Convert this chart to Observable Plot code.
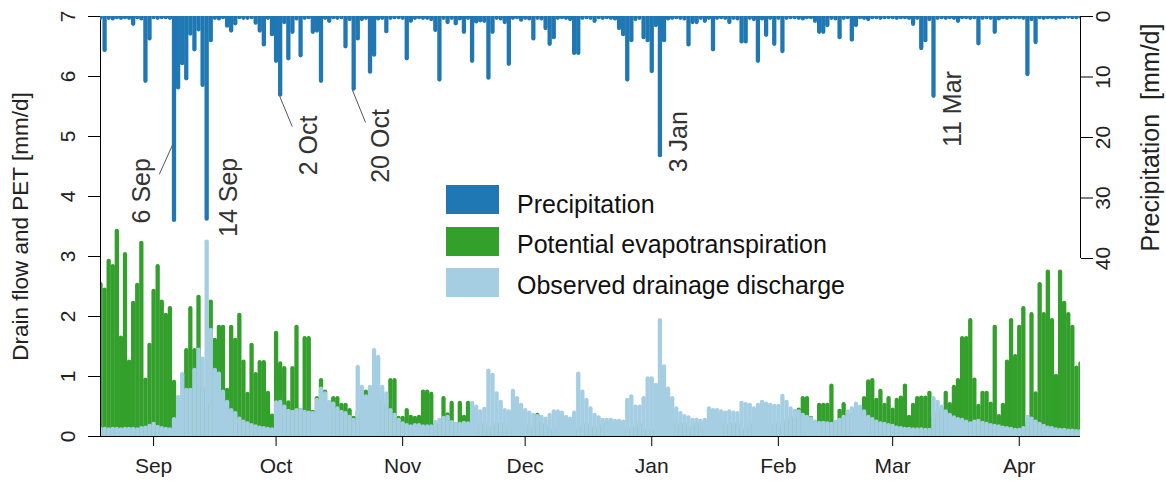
<!DOCTYPE html>
<html>
<head>
<meta charset="utf-8">
<script src="https://cdn.jsdelivr.net/npm/d3@7"></script>
<script src="https://cdn.jsdelivr.net/npm/@observablehq/plot@0.6"></script>
<style>
  body { margin: 0; background: #fff; font-family: "Liberation Sans", Arial, Helvetica, sans-serif; }
  #wrap { position: relative; width: 1166px; height: 481px; overflow: hidden; background: #fff; }
  #wrap svg { position: absolute; left: 0; top: 0; }
  .leg-box { position: absolute; left: 446px; width: 53px; height: 29px; }
  .leg-txt { position: absolute; left: 517px; font-size: 25px; line-height: 25px; color: #111; white-space: nowrap; }
</style>
</head>
<body>
<div id="wrap"></div>
<script>
// ---------- DATA (daily values, 19 Aug 2014 – 16 Apr 2015) ----------
// Precipitation [mm/d]
const precipAug = [0.3, 5.6, 0.3, 0.4, 0.2, 0.3, 0.2, 0.3, 1.3, 0.2, 0.4, 10.7, 3.7];
const precipSep = [0.2, 0.3, 0.2, 0.2, 0.3, 33.7, 11.8, 7.8, 10.3, 2.9, 5.5, 2.2, 11.4, 33.5, 4.0, 0.3, 0.4, 0.2, 1.6, 2.4, 1.2, 0.2, 0.3, 0.3, 0.2, 1.1, 2.4, 4.7, 0.3, 3.0];
const precipOct = [7.4, 13.0, 1.0, 7.0, 2.6, 0.4, 6.5, 0.3, 0.2, 2.6, 2.4, 10.7, 0.3, 0.8, 0.2, 0.3, 0.2, 5.0, 0.5, 12.0, 3.7, 0.5, 0.3, 9.2, 6.4, 0.4, 0.3, 2.5, 0.3, 0.2, 0.2];
const precipNov = [0.3, 7.0, 0.8, 0.3, 0.2, 0.3, 0.3, 0.5, 2.3, 10.5, 0.3, 1.0, 0.3, 1.2, 0.4, 2.6, 0.3, 7.4, 0.9, 0.7, 0.8, 10.2, 2.6, 0.3, 0.4, 1.0, 7.9, 0.3, 0.2, 0.6];
const precipDec = [0.3, 0.4, 3.7, 0.3, 0.4, 2.0, 4.6, 3.5, 0.3, 0.2, 0.3, 0.5, 6.1, 6.1, 0.3, 0.2, 0.3, 0.8, 0.2, 0.3, 0.2, 0.3, 0.4, 2.0, 3.0, 10.5, 4.0, 0.5, 0.3, 3.5, 4.0];
const precipJan = [9.1, 1.5, 23.0, 4.0, 0.4, 0.3, 0.2, 0.3, 0.4, 4.7, 1.0, 1.0, 0.3, 0.8, 0.3, 5.5, 0.3, 0.2, 0.3, 1.0, 0.3, 0.4, 4.2, 4.2, 0.3, 0.5, 7.4, 0.4, 3.1, 0.3, 4.6];
const precipFeb = [0.3, 5.8, 0.3, 0.2, 0.2, 0.3, 0.4, 0.2, 0.2, 0.8, 2.6, 2.6, 1.5, 0.3, 0.4, 3.5, 0.3, 0.2, 3.9, 1.5, 0.2, 0.3, 0.5, 0.2, 0.2, 0.3, 0.2, 0.2];
const precipMar = [0.2, 0.3, 0.2, 0.2, 0.3, 1.3, 0.3, 5.3, 4.0, 0.5, 13.2, 0.3, 0.2, 0.3, 0.2, 0.3, 0.8, 0.2, 0.2, 0.3, 0.2, 4.5, 0.3, 0.2, 0.3, 2.6, 0.4, 0.2, 0.3, 0.2, 0.2];
const precipApr = [0.2, 0.3, 9.6, 0.5, 4.3, 0.2, 0.3, 0.2, 0.2, 0.3, 0.2, 0.2, 0.1, 0.2, 0.2, 0.1];

// Potential evapotranspiration [mm/d]
const petAug = [2.53, 2.44, 2.92, 2.83, 3.42, 1.64, 3.03, 1.24, 2.22, 2.52, 3.22, 0.94, 1.52];
const petSep = [2.42, 2.83, 2.24, 2.02, 2.13, 0.9, 0.5, 0.6, 1.43, 2.13, 1.43, 2.32, 0.8, 0.5, 2.24, 1.6, 1.82, 1.82, 0.77, 1.82, 1.6, 2.02, 1.24, 0.7, 1.52, 1.03, 1.23, 1.23, 0.72, 0.34];
const petOct = [1.72, 1.21, 1.13, 0.56, 1.13, 1.82, 0.43, 1.63, 1.63, 0.4, 0.63, 0.93, 0.74, 0.52, 0.63, 0.63, 0.52, 0.52, 0.43, 0.3, 0.4, 0.6, 0.74, 0.5, 0.4, 0.6, 0.6, 0.5, 0.93, 0.93, 0.3];
const petNov = [0.3, 0.43, 0.32, 0.3, 0.32, 0.74, 0.74, 0.7, 0.2, 0.2, 0.63, 0.36, 0.55, 0.2, 0.55, 0.32, 0.55, 0.43, 0.2, 0.15, 0.2, 0.1, 0.15, 0.2, 0.2, 0.15, 0.1, 0.15, 0.2, 0.15];
const petDec = [0.2, 0.15, 0.1, 0.35, 0.2, 0.15, 0.1, 0.1, 0.2, 0.15, 0.2, 0.1, 0.1, 0.1, 0.15, 0.2, 0.15, 0.1, 0.15, 0.2, 0.15, 0.1, 0.15, 0.1, 0.1, 0.1, 0.1, 0.15, 0.2, 0.1, 0.1];
const petJan = [0.1, 0.1, 0.05, 0.1, 0.15, 0.15, 0.2, 0.15, 0.2, 0.1, 0.15, 0.2, 0.15, 0.15, 0.2, 0.1, 0.2, 0.15, 0.2, 0.15, 0.2, 0.2, 0.1, 0.1, 0.2, 0.2, 0.1, 0.2, 0.15, 0.2, 0.15];
const petFeb = [0.2, 0.15, 0.25, 0.3, 0.3, 0.44, 0.63, 0.63, 0.3, 0.2, 0.52, 0.52, 0.52, 0.84, 0.22, 0.42, 0.53, 0.35, 0.3, 0.45, 0.45, 0.63, 0.91, 0.93, 0.6, 0.75, 0.52, 0.63];
const petMar = [0.44, 0.6, 0.64, 0.84, 0.32, 0.52, 0.63, 0.64, 0.64, 0.72, 0.3, 0.4, 0.45, 0.72, 0.53, 0.82, 0.93, 1.63, 1.63, 1.93, 0.94, 0.5, 0.72, 0.72, 0.54, 1.82, 0.33, 0.52, 1.24, 1.93, 1.33];
const petApr = [1.82, 2.13, 0.2, 2.03, 0.71, 2.53, 2.03, 2.74, 1.93, 1.0, 2.74, 2.22, 2.03, 1.82, 1.14, 1.21];

// Observed drainage discharge [mm/d]
const drainAug = [0.12, 0.12, 0.11, 0.12, 0.12, 0.11, 0.12, 0.12, 0.12, 0.11, 0.13, 0.14, 0.17];
const drainSep = [0.2, 0.15, 0.13, 0.12, 0.11, 0.28, 0.65, 1.03, 0.77, 0.77, 1.1, 1.44, 1.29, 3.24, 1.77, 1.1, 1.04, 0.74, 0.57, 0.43, 0.38, 0.29, 0.24, 0.21, 0.18, 0.16, 0.14, 0.13, 0.12, 0.11];
const drainOct = [0.56, 0.57, 0.49, 0.42, 0.4, 0.43, 0.43, 0.4, 0.39, 0.38, 0.6, 0.79, 0.71, 0.57, 0.54, 0.46, 0.4, 0.38, 0.32, 0.27, 1.15, 0.82, 0.66, 0.82, 1.43, 1.32, 0.82, 0.71, 0.43, 0.35, 0.27];
const drainNov = [0.21, 0.18, 0.16, 0.18, 0.18, 0.16, 0.16, 0.16, 0.23, 0.27, 0.3, 0.32, 0.23, 0.2, 0.2, 0.22, 0.21, 0.55, 0.49, 0.41, 0.45, 1.09, 1.02, 0.71, 0.57, 0.43, 0.41, 0.75, 0.63, 0.52];
const drainDec = [0.43, 0.39, 0.35, 0.33, 0.32, 0.29, 0.35, 0.41, 0.41, 0.39, 0.32, 0.29, 0.39, 1.04, 0.74, 0.6, 0.46, 0.35, 0.31, 0.27, 0.27, 0.27, 0.25, 0.25, 0.24, 0.6, 0.66, 0.49, 0.49, 0.63, 0.96];
const drainJan = [0.96, 0.85, 1.93, 1.16, 0.79, 0.63, 0.46, 0.38, 0.33, 0.31, 0.27, 0.27, 0.25, 0.27, 0.46, 0.43, 0.43, 0.41, 0.39, 0.41, 0.39, 0.38, 0.55, 0.53, 0.52, 0.46, 0.52, 0.57, 0.54, 0.52, 0.5];
const drainFeb = [0.5, 0.67, 0.57, 0.46, 0.42, 0.41, 0.35, 0.32, 0.29, 0.24, 0.22, 0.22, 0.21, 0.2, 0.24, 0.27, 0.32, 0.41, 0.46, 0.54, 0.49, 0.41, 0.32, 0.28, 0.24, 0.21, 0.2, 0.18];
const drainMar = [0.17, 0.14, 0.13, 0.12, 0.12, 0.11, 0.11, 0.11, 0.1, 0.1, 0.63, 0.57, 0.49, 0.41, 0.35, 0.31, 0.28, 0.27, 0.24, 0.21, 0.24, 0.25, 0.22, 0.2, 0.18, 0.17, 0.16, 0.14, 0.13, 0.12, 0.1];
const drainApr = [0.1, 0.13, 0.32, 0.29, 0.24, 0.2, 0.17, 0.14, 0.13, 0.11, 0.1, 0.1, 0.09, 0.09, 0.08, 0.08];

// Axis ticks and labels
const leftTicks = [0, 1, 2, 3, 4, 5, 6, 7];
const rightTicks = [0, 10, 20, 30, 40];
const leftTitle = "Drain flow and PET [mm/d]";
const rightTitle = "Precipitation  [mm/d]";
const seriesNames = ["Precipitation", "Potential evapotranspiration", "Observed drainage discharge"];
const seriesColors = ["#1f78b4", "#33a02c", "#a6cee3"];

// Annotated rain events
const eventDates = ["2014-09-06", "2014-09-14", "2014-10-02", "2014-10-20", "2015-01-03", "2015-03-11"];
const eventLabels = ["6 Sep", "14 Sep", "2 Oct", "20 Oct", "3 Jan", "11 Mar"];

// ---------- BUILD ----------
const FONT = '"Liberation Sans", Arial, Helvetica, sans-serif';
const precip = [...precipAug, ...precipSep, ...precipOct, ...precipNov, ...precipDec, ...precipJan, ...precipFeb, ...precipMar, ...precipApr];
const pet = [...petAug, ...petSep, ...petOct, ...petNov, ...petDec, ...petJan, ...petFeb, ...petMar, ...petApr];
const drain = [...drainAug, ...drainSep, ...drainOct, ...drainNov, ...drainDec, ...drainJan, ...drainFeb, ...drainMar, ...drainApr];
const DAY = 864e5;
const start = Date.UTC(2014, 7, 19);
const rows = precip.map((p, i) => ({date: new Date(start + i * DAY), precip: p, pet: pet[i], drain: drain[i]}));
const xDomain = [rows[0].date, rows[rows.length - 1].date];
const monthTicks = d3.utcMonths(new Date(Date.UTC(2014, 8, 1)), new Date(Date.UTC(2015, 3, 2)));

// layout (pixels / offsets)
const W = 1166, H = 481;
const frame = {width: W, height: H, marginLeft: 100, marginRight: 86, marginTop: 16, marginBottom: 45};
const pxPerDay = (W - frame.marginLeft - frame.marginRight) / (rows.length - 1);
const precipFull = 40 * 420 / 242; // precipitation axis: 0..40 spans the upper 242 px of 420
const shift = (d, days) => new Date(+d + days * DAY);
const annLayout = [
  {dx: -32, y: 28.8}, {dx: 22, y: 29.9}, {dx: 29, y: 21.3}, {dx: 27, y: 21.4}, {dx: 19, y: 20.7}, {dx: 19, y: 15.3}
];
const events = eventDates.map((d, k) => ({date: new Date(d), label: eventLabels[k], ...annLayout[k]}));
const leaders = [
  {a: events[0].date, o1: -0.34, o2: -3.6, y1: 21.2, y2: 26.1},
  {a: events[2].date, o1: -0.1, o2: 2.96, y1: 13.2, y2: 18.2},
  {a: events[3].date, o1: -0.34, o2: 2.9, y1: 12.1, y2: 17.5}
];
const BAR = 4.3;

const plotA = Plot.plot({
  ...frame,
  style: {background: "white", fontFamily: FONT, color: "#000"},
  x: {type: "utc", domain: xDomain},
  y: {domain: [0, 7]},
  marks: [
    Plot.ruleX(rows, {x: "date", y1: 0, y2: "pet", stroke: seriesColors[1], strokeWidth: BAR, strokeLinecap: "round", clip: true}),
    Plot.ruleX(rows, {x: "date", y1: 0, y2: "drain", stroke: seriesColors[2], strokeWidth: BAR, strokeLinecap: "round", clip: true}),
    Plot.ruleY([0], {stroke: "#000", strokeWidth: 1}),
    Plot.ruleX([xDomain[0]], {x: d => d, y1: 0, y2: 7, stroke: "#000", strokeWidth: 1}),
    Plot.axisX({ticks: monthTicks, tickFormat: d3.utcFormat("%b"), tickSize: 10, tickPadding: 12, fontSize: 21, label: null, fill: "#222"}),
    Plot.axisY({ticks: leftTicks, tickSize: 12, tickFormat: () => "", label: null}),
    Plot.text(leftTicks, {y: d => d, text: d => String(d), frameAnchor: "left", dx: -32, rotate: -90, textAnchor: "middle", fontSize: 21, fill: "#222"}),
    Plot.text([leftTitle], {text: d => d, frameAnchor: "left", dx: -80, rotate: -90, textAnchor: "middle", fontSize: 22.5, fill: "#222"})
  ]
});

const plotB = Plot.plot({
  ...frame,
  style: {background: "transparent", fontFamily: FONT, color: "#000"},
  x: {type: "utc", domain: xDomain, axis: null},
  y: {domain: [0, precipFull], reverse: true},
  marks: [
    Plot.ruleX(rows, {x: "date", y1: 0, y2: "precip", stroke: seriesColors[0], strokeWidth: BAR, strokeLinecap: "round", clip: true}),
    Plot.ruleX([xDomain[1]], {x: d => d, y1: 0, y2: 40, stroke: "#000", strokeWidth: 1}),
    Plot.axisY({anchor: "right", ticks: rightTicks, tickSize: 12, tickFormat: () => "", label: null}),
    Plot.text(rightTicks, {y: d => d, text: d => String(d), frameAnchor: "right", dx: 23, rotate: -90, textAnchor: "middle", fontSize: 21, fill: "#222"}),
    Plot.text([rightTitle], {y: () => 20, text: d => d, frameAnchor: "right", dx: 70, rotate: -90, textAnchor: "middle", fontSize: 25, fill: "#222"}),
    Plot.link(leaders, {x1: d => shift(d.a, d.o1), x2: d => shift(d.a, d.o2), y1: "y1", y2: "y2", stroke: "#555", strokeWidth: 1}),
    Plot.text(events, {x: d => shift(d.date, d.dx / pxPerDay), y: "y", text: "label", rotate: -90, textAnchor: "middle", fontSize: 25, fill: "#333"})
  ]
});

const wrap = document.getElementById("wrap");
wrap.appendChild(plotA);
wrap.appendChild(plotB);

// legend (inside the plot area)
const boxTops = [185, 226.5, 267.5];
const txtTops = [191.5, 232, 272.5];
seriesNames.forEach((name, k) => {
  const b = document.createElement("div");
  b.className = "leg-box";
  b.style.top = boxTops[k] + "px";
  b.style.background = seriesColors[k];
  wrap.appendChild(b);
  const t = document.createElement("div");
  t.className = "leg-txt";
  t.style.top = txtTops[k] + "px";
  t.textContent = name;
  wrap.appendChild(t);
});
</script>
</body>
</html>
